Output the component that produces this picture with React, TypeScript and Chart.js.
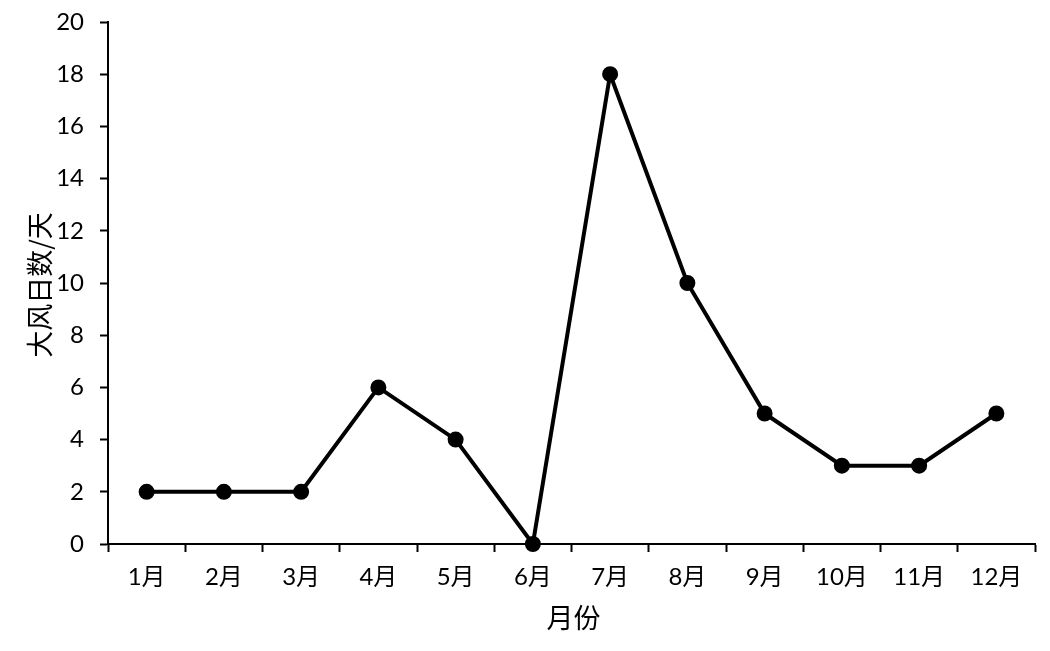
import React, { useEffect, useRef } from "react";
import { Chart, registerables } from "chart.js";

Chart.register(...registerables);

const categories = ["1月", "2月", "3月", "4月", "5月", "6月", "7月", "8月", "9月", "10月", "11月", "12月"];
const galeDays = [2, 2, 2, 6, 4, 0, 18, 10, 5, 3, 3, 5];
const yMin = 0;
const yMax = 20;
const yStep = 2;
const xTitle = "月份";
const yTitle = "大风日数/天";

const tickFont = "Lato, 'Noto Sans CJK SC', sans-serif";
const titleFont = "'Noto Sans CJK SC', sans-serif";

export default function App() {
  const ref = useRef<HTMLCanvasElement | null>(null);
  useEffect(() => {
    document.body.style.margin = "0";
    const titles = {
      id: "titles",
      afterDraw(chart: any) {
        const { ctx, chartArea } = chart;
        ctx.save();
        ctx.fillStyle = "#000";
        ctx.font = `27px ${titleFont}`;
        ctx.textAlign = "center";
        ctx.textBaseline = "middle";
        ctx.fillText(xTitle, (chartArea.left + chartArea.right) / 2 + 2, 618);
        ctx.translate(40, (chartArea.top + chartArea.bottom) / 2 + 2);
        ctx.rotate(-Math.PI / 2);
        ctx.fillText(yTitle, 0, 0);
        ctx.restore();
      },
    };
    const chart = new Chart(ref.current!, {
      type: "line",
      data: {
        labels: categories,
        datasets: [
          {
            data: galeDays,
            borderColor: "#000",
            backgroundColor: "#000",
            borderWidth: 4,
            pointRadius: 6,
            pointBackgroundColor: "#000",
            pointBorderColor: "#000",
            tension: 0,
            clip: false,
          },
        ],
      },
      options: {
        animation: false,
        responsive: false,
        layout: { padding: { left: 0, right: 15, top: 22, bottom: 0 } },
        plugins: { legend: { display: false }, tooltip: { enabled: false } },
        scales: {
          x: {
            type: "category",
            offset: true,
            grid: {
              offset: true,
              drawOnChartArea: false,
              drawTicks: true,
              tickLength: 8,
              tickWidth: 2,
              tickColor: "#000",
            },
            border: { color: "#000", width: 2 },
            ticks: { color: "#000", font: { family: tickFont, size: 24 }, padding: 11, maxRotation: 0 },
            afterFit: (scale: any) => {
              scale.height = 107;
              scale.paddingLeft = 0;
              scale.paddingRight = 0;
            },
          },
          y: {
            min: yMin,
            max: yMax,
            grid: {
              drawOnChartArea: false,
              drawTicks: true,
              tickLength: 8,
              tickWidth: 2,
              tickColor: "#000",
            },
            border: { color: "#000", width: 2 },
            ticks: { stepSize: yStep, color: "#000", font: { family: tickFont, size: 24 }, padding: 16 },
            afterFit: (scale: any) => {
              scale.width = 108;
              scale.paddingTop = 0;
              scale.paddingBottom = 0;
            },
          },
        },
      },
      plugins: [titles],
    });
    return () => chart.destroy();
  }, []);
  return (
    <div style={{ position: "absolute", left: 0, top: 0, width: 1050, height: 651, background: "#fff" }}>
      <canvas ref={ref} width={1050} height={651} />
    </div>
  );
}
